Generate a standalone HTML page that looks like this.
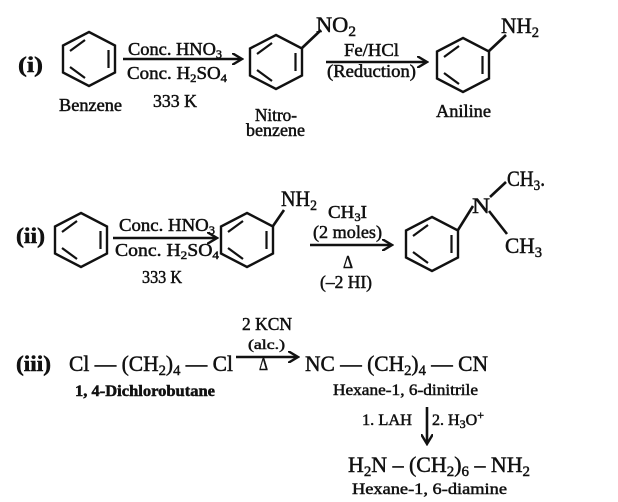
<!DOCTYPE html>
<html><head><meta charset="utf-8"><style>
html,body{margin:0;padding:0;background:#fff}
svg{display:block}
text{font-family:"Liberation Serif",serif;fill:#111;stroke:#111;stroke-width:0.5}
</style></head><body>
<svg width="618" height="502" viewBox="0 0 618 502" xmlns="http://www.w3.org/2000/svg">
<defs>
<g id="bz">
<polygon points="0,-27 26,-13.5 26,13.5 0,27 -26,13.5 -26,-13.5" fill="none" stroke="#111" stroke-width="2.4"/>
<line x1="-19" y1="-8" x2="-4" y2="-19" stroke="#111" stroke-width="2.2"/>
<line x1="19.5" y1="-9" x2="19.5" y2="9" stroke="#111" stroke-width="2.2"/>
<line x1="-19" y1="8" x2="-4" y2="19" stroke="#111" stroke-width="2.2"/>
</g>
<marker id="ah" markerWidth="12" markerHeight="12" refX="9" refY="6" orient="auto" markerUnits="userSpaceOnUse"><path d="M0,0 L10,6 L0,12" fill="none" stroke="#111" stroke-width="2.4"/></marker>
</defs>
<g stroke="#111" stroke-width="2.6" fill="none">
<line x1="123" y1="59" x2="241" y2="59" marker-end="url(#ah)"/>
<line x1="326" y1="62" x2="426" y2="62" marker-end="url(#ah)"/>
<line x1="302" y1="48" x2="321" y2="30"/>
<line x1="489" y1="51" x2="506" y2="35"/>
<line x1="113" y1="238" x2="216" y2="238" marker-end="url(#ah)"/>
<line x1="310" y1="245" x2="391" y2="245" marker-end="url(#ah)"/>
<line x1="273" y1="226" x2="284" y2="210"/>
<line x1="458" y1="230" x2="473" y2="206"/>
<line x1="490" y1="197" x2="506" y2="182"/>
<line x1="489" y1="211" x2="507" y2="234"/>
<line x1="236" y1="357" x2="297" y2="357" marker-end="url(#ah)"/>
<line x1="427" y1="407" x2="427" y2="443" marker-end="url(#ah)"/>
</g>
<use href="#bz" x="89" y="59"/>
<use href="#bz" x="276" y="62"/>
<use href="#bz" x="463" y="65"/>
<use href="#bz" x="81" y="240"/>
<use href="#bz" x="247" y="240"/>
<use href="#bz" x="432" y="244"/>

<g font-size="22">
<text x="18" y="72" textLength="25" lengthAdjust="spacingAndGlyphs" font-weight="bold">(i)</text>
<text x="316" y="32" textLength="40" lengthAdjust="spacingAndGlyphs">NO<tspan font-size="15" dy="4">2</tspan></text>
<text x="501" y="33" textLength="38" lengthAdjust="spacingAndGlyphs">NH<tspan font-size="15" dy="4">2</tspan></text>
<text x="16" y="243" textLength="29" lengthAdjust="spacingAndGlyphs" font-weight="bold">(ii)</text>
<text x="281" y="206" textLength="36" lengthAdjust="spacingAndGlyphs">NH<tspan font-size="15" dy="4">2</tspan></text>
<text x="472" y="213" textLength="18" lengthAdjust="spacingAndGlyphs">N</text>
<text x="507" y="186" textLength="38" lengthAdjust="spacingAndGlyphs">CH<tspan font-size="15" dy="4">3</tspan><tspan dy="-4">.</tspan></text>
<text x="505" y="253" textLength="37" lengthAdjust="spacingAndGlyphs">CH<tspan font-size="15" dy="4">3</tspan></text>
<text x="16" y="371" textLength="35" lengthAdjust="spacingAndGlyphs" font-weight="bold">(iii)</text>
<text x="69" y="371" textLength="164" lengthAdjust="spacingAndGlyphs">Cl — (CH<tspan font-size="15" dy="4">2</tspan><tspan dy="-4">)</tspan><tspan font-size="15" dy="4">4</tspan><tspan dy="-4"> — Cl</tspan></text>
<text x="305" y="371" textLength="183" lengthAdjust="spacingAndGlyphs">NC — (CH<tspan font-size="15" dy="4">2</tspan><tspan dy="-4">)</tspan><tspan font-size="15" dy="4">4</tspan><tspan dy="-4"> — CN</tspan></text>
<text x="348" y="472" textLength="182" lengthAdjust="spacingAndGlyphs">H<tspan font-size="15" dy="4">2</tspan><tspan dy="-4">N – (CH</tspan><tspan font-size="15" dy="4">2</tspan><tspan dy="-4">)</tspan><tspan font-size="15" dy="4">6</tspan><tspan dy="-4"> – NH</tspan><tspan font-size="15" dy="4">2</tspan></text>
</g>
<g font-size="18">
<text x="128" y="55" textLength="94" lengthAdjust="spacingAndGlyphs">Conc. HNO<tspan font-size="12" dy="3">3</tspan></text>
<text x="127" y="79" textLength="100" lengthAdjust="spacingAndGlyphs">Conc. H<tspan font-size="12" dy="3">2</tspan><tspan dy="-3">SO</tspan><tspan font-size="12" dy="3">4</tspan></text>
<text x="153" y="107" textLength="44" lengthAdjust="spacingAndGlyphs">333 K</text>
<text x="59" y="111" textLength="63" lengthAdjust="spacingAndGlyphs">Benzene</text>
<text x="255" y="121" textLength="42" lengthAdjust="spacingAndGlyphs">Nitro-</text>
<text x="246" y="136" textLength="59" lengthAdjust="spacingAndGlyphs">benzene</text>
<text x="344" y="56" textLength="55" lengthAdjust="spacingAndGlyphs">Fe/HCl</text>
<text x="327" y="77" textLength="89" lengthAdjust="spacingAndGlyphs">(Reduction)</text>
<text x="436" y="117" textLength="55" lengthAdjust="spacingAndGlyphs">Aniline</text>
<text x="119" y="231" textLength="96" lengthAdjust="spacingAndGlyphs">Conc. HNO<tspan font-size="12" dy="3">3</tspan></text>
<text x="115" y="256" textLength="104" lengthAdjust="spacingAndGlyphs">Conc. H<tspan font-size="12" dy="3">2</tspan><tspan dy="-3">SO</tspan><tspan font-size="12" dy="3">4</tspan></text>
<text x="142" y="283" textLength="40" lengthAdjust="spacingAndGlyphs">333 K</text>
<text x="328" y="218" textLength="39" lengthAdjust="spacingAndGlyphs">CH<tspan font-size="12" dy="3">3</tspan><tspan dy="-3">I</tspan></text>
<text x="313" y="238" textLength="69" lengthAdjust="spacingAndGlyphs">(2 moles)</text>
<text x="343" y="268" textLength="10" lengthAdjust="spacingAndGlyphs">Δ</text>
<text x="320" y="288" textLength="52" lengthAdjust="spacingAndGlyphs">(–2 HI)</text>
<text x="242" y="330" textLength="50" lengthAdjust="spacingAndGlyphs">2 KCN</text>
<text x="248" y="349" font-size="14" textLength="37" lengthAdjust="spacingAndGlyphs">(alc.)</text>
<text x="259" y="370" textLength="9" lengthAdjust="spacingAndGlyphs">Δ</text>
</g>
<g font-size="16">
<text x="75" y="396" font-weight="bold" textLength="140" lengthAdjust="spacingAndGlyphs">1, 4-Dichlorobutane</text>
<text x="333" y="395" textLength="145" lengthAdjust="spacingAndGlyphs">Hexane-1, 6-dinitrile</text>
<text x="362" y="425" textLength="50" lengthAdjust="spacingAndGlyphs">1. LAH</text>
<text x="432" y="425" textLength="52" lengthAdjust="spacingAndGlyphs">2. H<tspan font-size="12" dy="3">3</tspan><tspan dy="-3">O</tspan><tspan font-size="12" dy="-6">+</tspan></text>
<text x="352" y="494" textLength="155" lengthAdjust="spacingAndGlyphs">Hexane-1, 6-diamine</text>
</g>
</svg>
</body></html>
